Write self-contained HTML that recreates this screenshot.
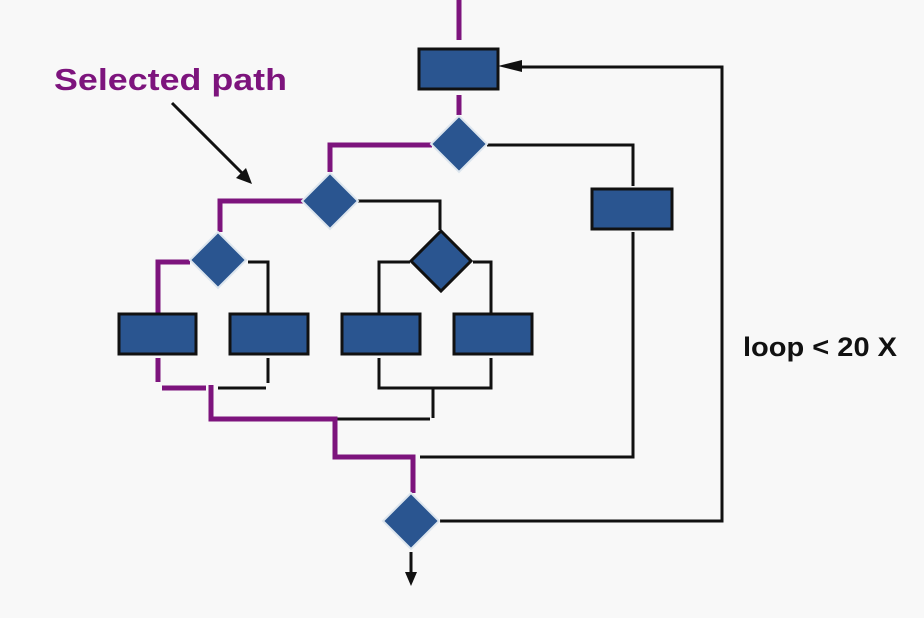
<!DOCTYPE html>
<html><head><style>html,body{margin:0;padding:0;background:#f8f8f8;}svg{display:block}</style></head>
<body>
<svg width="924" height="618" viewBox="0 0 924 618" xmlns="http://www.w3.org/2000/svg">
<rect width="924" height="618" fill="#f8f8f8"/>
<g fill="none" stroke="#111" stroke-width="3">
<polyline points="487,145 633,145 633,186"/>
<polyline points="633,232 633,457 420,457"/>
<polyline points="440,521 722,521 722,67 520,67"/>
<polyline points="358,201 440,201 440,230"/>
<polyline points="248,262 268,262 268,313"/>
<polyline points="410,262 379,262 379,313"/>
<polyline points="473,262 491,262 491,313"/>
<line x1="268" y1="358" x2="268" y2="383"/>
<line x1="218" y1="388" x2="266" y2="388"/>
<polyline points="379,358 379,388 491,388 491,358"/>
<line x1="433" y1="388" x2="433" y2="418"/>
<line x1="337" y1="419" x2="430" y2="419"/>
<line x1="411" y1="552" x2="411" y2="575"/>
<line x1="172" y1="103" x2="245" y2="176"/>
</g>
<polygon points="498,66 522,60 522,72" fill="#111"/>
<polygon points="405,572 417,572 411,586" fill="#111"/>
<polygon points="252,184 236,178 246,168" fill="#111"/>
<g fill="none" stroke="#7d147d" stroke-width="5">
<line x1="459" y1="0" x2="459" y2="40"/>
<line x1="459" y1="95" x2="459" y2="115"/>
<polyline points="432,145 330,145 330,172"/>
<polyline points="303,201 220,201 220,232"/>
<polyline points="190,262 158,262 158,313"/>
<line x1="158" y1="358" x2="158" y2="382"/>
<line x1="162" y1="388" x2="206" y2="388"/>
<polyline points="211,385 211,419 335,419 335,457 413,457 413,493"/>
</g>
<g fill="#2a5590" stroke="#111" stroke-width="3">
<rect x="419" y="49" width="79" height="40"/>
<rect x="592" y="189" width="80" height="40"/>
<rect x="119" y="314" width="77" height="40"/>
<rect x="230" y="314" width="78" height="40"/>
<rect x="342" y="314" width="78" height="40"/>
<rect x="454" y="314" width="78" height="40"/>
<polygon points="441,231 471,261 441,291 411,261"/>
</g>
<g fill="#2a5590" stroke="#dde6ee" stroke-width="2">
<polygon points="459,116 487,144 459,172 431,144"/>
<polygon points="330,173 358,201 330,229 302,201"/>
<polygon points="218,232 246,260 218,288 190,260"/>
<polygon points="411,493 439,521 411,549 383,521"/>
</g>
<text x="54" y="90" font-family="Liberation Sans, sans-serif" font-weight="bold" font-size="31" fill="#7d147d" textLength="233" lengthAdjust="spacingAndGlyphs">Selected path</text>
<text x="743" y="356" font-family="Liberation Sans, sans-serif" font-weight="bold" font-size="27" fill="#111" textLength="154" lengthAdjust="spacingAndGlyphs">loop &lt; 20 X</text>
</svg>
</body></html>
